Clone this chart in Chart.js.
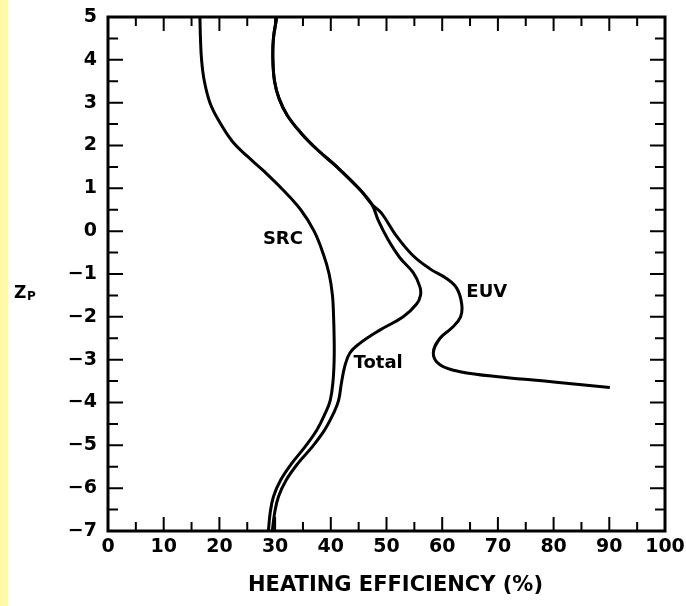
<!DOCTYPE html>
<html>
<head>
<meta charset="utf-8">
<script src="https://cdn.jsdelivr.net/npm/chart.js@4.4.0/dist/chart.umd.min.js"></script>
<style>
  html, body { margin: 0; padding: 0; background: #fff; }
  #wrap { position: relative; width: 686px; height: 606px; }
  #strip { position: absolute; left: 0; top: 0; width: 8px; height: 606px; background: #fffaa8; }
  canvas { position: absolute; left: 0; top: 0; }
</style>
</head>
<body>
<div id="wrap">
  <div id="strip"></div>
  <canvas id="heatingChart" width="686" height="606"></canvas>
</div>
<script>
// Heating efficiency (%) against pressure level Zp

// common upper trunk of the Total and EUV curves
const trunkEff = [30.3, 29.7, 29.6, 29.9, 30.7, 32.2, 34.6, 37.6, 41.1, 45.3, 47.4];
const trunkZ   = [5.0, 4.5, 4.0, 3.5, 3.1, 2.7, 2.3, 1.9, 1.5, 0.96, 0.62];

const totalEff = [48.5, 50.3, 52.4, 54.8, 56.0, 56.1, 55.4, 53.0, 48.8, 45.2, 43.4, 42.5, 41.9, 41.4,
                  40.5, 38.9, 36.7, 34.1, 32.0, 30.6, 29.9, 29.5];
const totalZ   = [0.26, -0.2, -0.62, -0.97, -1.3, -1.5, -1.7, -2.0, -2.31, -2.62, -2.85, -3.16, -3.55, -3.95,
                  -4.25, -4.64, -5.03, -5.42, -5.81, -6.2, -6.59, -7.0];

const euvEff = [49.1, 51.6, 54.6, 57.8, 60.7, 62.6, 63.5, 63.3, 61.8, 59.6, 58.4, 59.6, 63.2, 71.0, 80.0, 90.1];
const euvZ   = [0.42, -0.08, -0.55, -0.88, -1.1, -1.33, -1.7, -2.0, -2.25, -2.5, -2.85, -3.12, -3.28, -3.41, -3.52, -3.65];

const srcEff = [16.5, 16.6, 16.8, 17.3, 18.3, 19.8, 22.3, 25.0, 28.0, 31.3, 34.6, 37.0, 38.7, 39.7,
                40.3, 40.5, 40.6, 40.6, 40.4, 39.9, 39.0, 37.5, 35.4, 33.0, 31.0, 29.7, 29.1, 28.8];
const srcZ   = [5.0, 4.5, 4.0, 3.5, 3.0, 2.6, 2.1, 1.75, 1.4, 0.98, 0.5, 0.0, -0.55, -1.0,
                -1.5, -2.0, -2.5, -3.0, -3.5, -3.95, -4.25, -4.64, -5.03, -5.42, -5.81, -6.2, -6.59, -7.0];

// curve labels: text, efficiency, Zp
const curveLabels = [
    ['SRC', 31.4, -0.18],
    ['Total', 48.5, -3.08],
    ['EUV', 68.0, -1.42]
];

const xTitle = 'HEATING EFFICIENCY (%)';
const FONT = 'DejaVu Sans';

function toPoints(effs, zs) {
    return effs.map((e, i) => ({ x: e, y: zs[i] }));
}

function curve(label, effs, zs) {
    return {
        label: label,
        data: toPoints(effs, zs),
        borderColor: '#000',
        borderWidth: 3,
        pointRadius: 0,
        tension: 0.4,
        fill: false
    };
}

// inward ticks on all four sides, the frame, curve names and axis titles
const framePlugin = {
    id: 'frameTicks',
    afterDatasetsDraw(chart) {
        const { ctx, chartArea: a, scales: { x, y } } = chart;
        ctx.save();
        ctx.strokeStyle = '#000';
        ctx.lineWidth = 2;
        ctx.beginPath();
        for (let v = 0; v <= 100; v += 5) {
            const px = x.getPixelForValue(v);
            const len = v % 10 === 0 ? 14 : 9;
            ctx.moveTo(px, a.bottom); ctx.lineTo(px, a.bottom - len);
            ctx.moveTo(px, a.top); ctx.lineTo(px, a.top + len);
        }
        for (let v = -7; v <= 5; v += 0.5) {
            const py = y.getPixelForValue(v);
            const len = Number.isInteger(v) ? 15 : 10;
            ctx.moveTo(a.left, py); ctx.lineTo(a.left + len, py);
            ctx.moveTo(a.right, py); ctx.lineTo(a.right - len, py);
        }
        ctx.stroke();

        ctx.lineWidth = 3;
        ctx.strokeRect(a.left, a.top, a.right - a.left, a.bottom - a.top);

        ctx.fillStyle = '#000';
        ctx.font = 'bold 18px "' + FONT + '"';
        ctx.textAlign = 'center';
        ctx.textBaseline = 'middle';
        curveLabels.forEach(([text, e, z]) => {
            ctx.fillText(text, x.getPixelForValue(e), y.getPixelForValue(z));
        });

        // x title sits a little right of the plot centre
        ctx.font = 'bold 21px "' + FONT + '"';
        ctx.fillText(xTitle, (a.left + a.right) / 2 + 9, 586);

        ctx.textAlign = 'left';
        ctx.textBaseline = 'alphabetic';
        ctx.font = 'bold 17px "' + FONT + '"';
        ctx.fillText('Z', 14, 298);
        ctx.font = 'bold 12px "' + FONT + '"';
        ctx.fillText('P', 27, 300);
        ctx.restore();
    }
};

const tickFont = { family: FONT, size: 19, weight: 'bold' };

new Chart(document.getElementById('heatingChart'), {
    type: 'line',
    data: {
        datasets: [
            curve('SRC', srcEff, srcZ),
            curve('Total', trunkEff.concat(totalEff), trunkZ.concat(totalZ)),
            curve('EUV', trunkEff.concat(euvEff), trunkZ.concat(euvZ))
        ]
    },
    options: {
        responsive: false,
        animation: false,
        layout: { padding: { left: 0, top: 17, right: 21, bottom: 0 } },
        plugins: {
            legend: { display: false },
            tooltip: { enabled: false }
        },
        scales: {
            x: {
                type: 'linear',
                min: 0,
                max: 100,
                grid: { display: false, drawTicks: false },
                border: { display: false },
                ticks: { stepSize: 10, padding: 5, color: '#000', font: tickFont, maxRotation: 0 },
                afterFit(scale) {
                    scale.height = 75;
                    scale.paddingLeft = 0;
                    scale.paddingRight = 0;
                }
            },
            y: {
                type: 'linear',
                min: -7,
                max: 5,
                grid: { display: false, drawTicks: false },
                border: { display: false },
                ticks: {
                    stepSize: 1,
                    padding: 11,
                    color: '#000',
                    font: tickFont,
                    callback: v => (v < 0 ? '\u2212' + Math.abs(v) : String(v))
                },
                afterFit(scale) {
                    scale.width = 108;
                    scale.paddingTop = 0;
                    scale.paddingBottom = 0;
                }
            }
        }
    },
    plugins: [framePlugin]
});
</script>
</body>
</html>
